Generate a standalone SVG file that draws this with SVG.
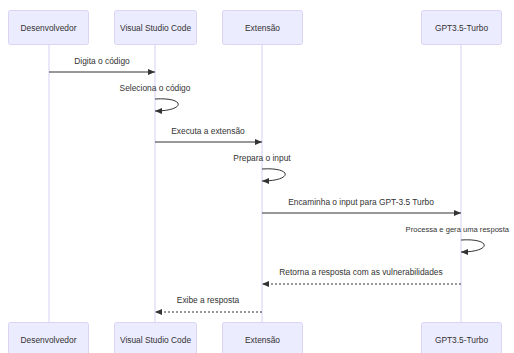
<svg xmlns="http://www.w3.org/2000/svg" width="514" height="353" viewBox="0 0 514 353">
<style>
.actor{fill:#ECECFF;stroke:#DCD3F5;stroke-width:1}
.lt{font-family:"Liberation Sans",Arial,sans-serif;font-size:8.4px;fill:#333;text-anchor:middle;dominant-baseline:central}
.life{stroke:#D8CEF5;stroke-width:1}
.msg{stroke:#333;stroke-width:1;fill:none}
.dot{stroke-dasharray:2,2}
</style>
<defs>
<marker id="ah" markerUnits="userSpaceOnUse" markerWidth="8" markerHeight="8" refX="7" refY="4" orient="auto">
<path d="M0,1 L7,4 L0,7 z" fill="#333"/>
</marker>
</defs>
<rect width="514" height="353" fill="#fff"/>
<g id="lifelines">
<line class="life" x1="49" y1="44" x2="49" y2="322"/>
<line class="life" x1="155" y1="44" x2="155" y2="322"/>
<line class="life" x1="262" y1="44" x2="262" y2="322"/>
<line class="life" x1="461" y1="44" x2="461" y2="322"/>
</g>
<g id="actor-dev"><rect class="actor" x="8.5" y="10.5" width="80" height="34" rx="2"/><text class="lt" x="48.5" y="27.5">Desenvolvedor</text></g>
<g id="actor-vsc"><rect class="actor" x="114.5" y="10.5" width="82" height="34" rx="2"/><text class="lt" x="155.5" y="27.5">Visual Studio Code</text></g>
<g id="actor-ext"><rect class="actor" x="222.5" y="10.5" width="80" height="34" rx="2"/><text class="lt" x="262.5" y="27.5">Extensão</text></g>
<g id="actor-gpt"><rect class="actor" x="421.5" y="10.5" width="80" height="34" rx="2"/><text class="lt" x="461.5" y="27.5">GPT3.5-Turbo</text></g>
<g id="actor-dev-b"><rect class="actor" x="8.5" y="322.5" width="80" height="34" rx="2"/><text class="lt" x="48.5" y="339.5">Desenvolvedor</text></g>
<g id="actor-vsc-b"><rect class="actor" x="114.5" y="322.5" width="82" height="34" rx="2"/><text class="lt" x="155.5" y="339.5">Visual Studio Code</text></g>
<g id="actor-ext-b"><rect class="actor" x="222.5" y="322.5" width="80" height="34" rx="2"/><text class="lt" x="262.5" y="339.5">Extensão</text></g>
<g id="actor-gpt-b"><rect class="actor" x="421.5" y="322.5" width="80" height="34" rx="2"/><text class="lt" x="461.5" y="339.5">GPT3.5-Turbo</text></g>
<g id="connectors">
<line class="msg" x1="49" y1="72" x2="155" y2="72" marker-end="url(#ah)"/>
<text class="lt" x="102" y="61">Digita o código</text>
<path class="msg" d="M155,99 C186,97 186,111 155,111" marker-end="url(#ah)"/>
<text class="lt" x="155" y="88">Seleciona o código</text>
<line class="msg" x1="155" y1="142" x2="262" y2="142" marker-end="url(#ah)"/>
<text class="lt" x="208" y="131">Executa a extensão</text>
<path class="msg" d="M262,169 C293,167 293,181 262,181" marker-end="url(#ah)"/>
<text class="lt" x="262" y="158">Prepara o input</text>
<line class="msg" x1="262" y1="213" x2="461" y2="213" marker-end="url(#ah)"/>
<text class="lt" x="361" y="202">Encaminha o input para GPT-3.5 Turbo</text>
<path class="msg" d="M461,240 C492,238 492,252 461,252" marker-end="url(#ah)"/>
<text class="lt" x="509" y="229" style="text-anchor:end;font-size:7.6px">Processa e gera uma resposta</text>
<line class="msg dot" x1="461" y1="284" x2="262" y2="284" marker-end="url(#ah)"/>
<text class="lt" x="361" y="272">Retorna a resposta com as vulnerabilidades</text>
<line class="msg dot" x1="262" y1="312" x2="155" y2="312" marker-end="url(#ah)"/>
<text class="lt" x="208" y="300">Exibe a resposta</text>
</g>
</svg>
